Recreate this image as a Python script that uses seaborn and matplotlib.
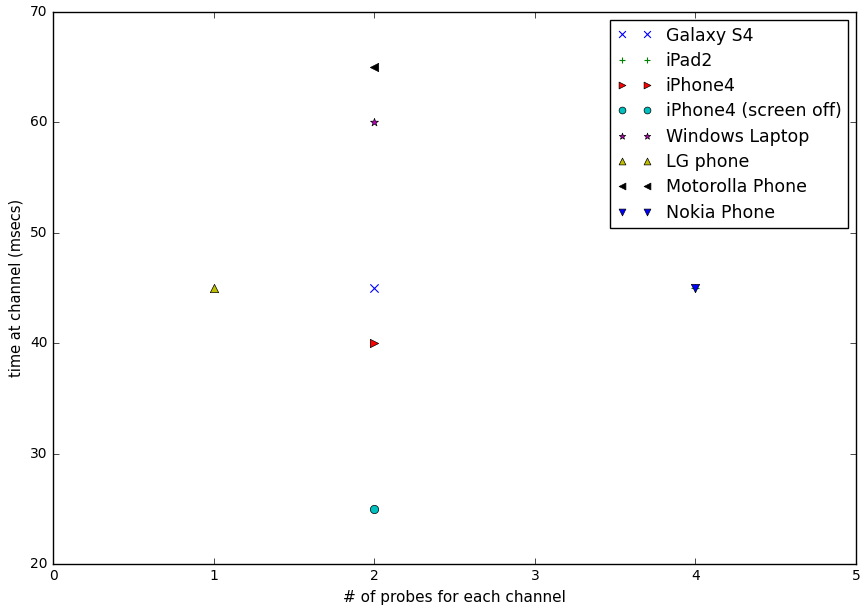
import matplotlib
matplotlib.use("Agg")
import matplotlib.pyplot as plt
import seaborn as sns

# devices, probes per channel, time at channel (msecs)
devices = ["Galaxy S4", "iPad2", "iPhone4", "iPhone4 (screen off)",
           "Windows Laptop", "LG phone", "Motorolla Phone", "Nokia Phone"]
probes = [2, 4, 2, 2, 2, 1, 2, 4]
times = [45, 45, 40, 25, 60, 45, 65, 45]
markers = ["x", "+", ">", "o", "*", "^", "<", "v"]
colors = ["b", "g", "r", "c", "m", "y", "k", "b"]

plt.style.use("classic")
fig, ax = plt.subplots(figsize=(8.61, 6.07), dpi=100)

for name, px, ty, mk, col in zip(devices, probes, times, markers, colors):
    if mk in ("x", "+"):
        sns.scatterplot(x=[px], y=[ty], marker=mk, color=col, s=36,
                        linewidth=0.8, label=name, ax=ax)
    else:
        sns.scatterplot(x=[px], y=[ty], marker=mk, color=col, s=36,
                        edgecolor="k", linewidth=0.5, label=name, ax=ax)

ax.set_xlim(0, 5)
ax.set_ylim(20, 70)
ax.set_xticks([0, 1, 2, 3, 4, 5])
ax.set_yticks([20, 30, 40, 50, 60, 70])
ax.tick_params(labelsize=10)
ax.set_xlabel("# of probes for each channel", fontsize=11)
ax.set_ylabel("time at channel (msecs)", fontsize=10.5)

leg = ax.legend(loc="upper right", scatterpoints=2, scatteryoffsets=[0.5],
                fontsize=12.5, labelspacing=0.42, handlelength=2.0,
                handletextpad=0.8, borderaxespad=0.45, borderpad=0.38)
for h in leg.legend_handles:
    h.set_sizes([24])

plt.subplots_adjust(left=0.062, right=0.994, top=0.98, bottom=0.071)
plt.savefig("out.png", dpi=100)
